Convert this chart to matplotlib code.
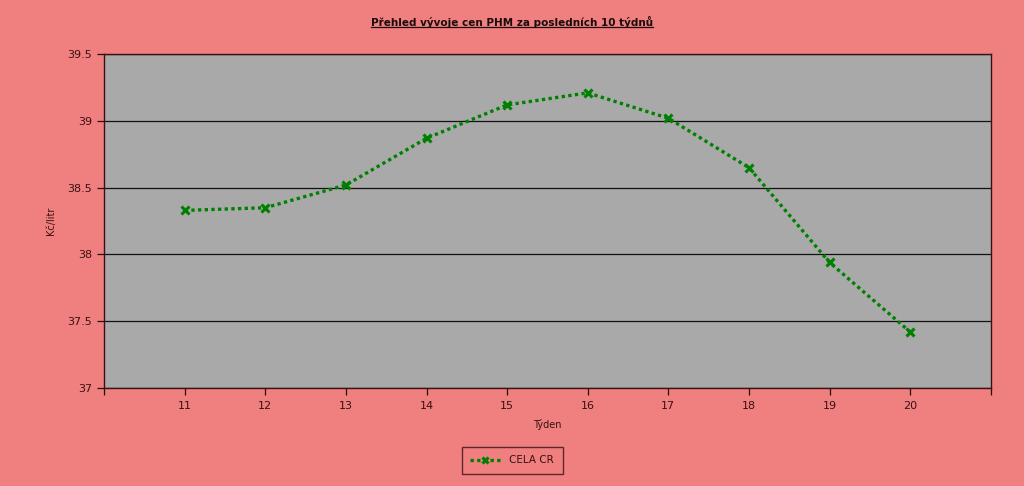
import matplotlib
matplotlib.use("Agg")
import matplotlib.pyplot as plt

# data
weeks = [11, 12, 13, 14, 15, 16, 17, 18, 19, 20]
prices = [38.33, 38.35, 38.52, 38.87, 39.12, 39.21, 39.02, 38.65, 37.94, 37.42]
series_name = "CELA CR"
y_ticks = [37, 37.5, 38, 38.5, 39, 39.5]
y_labels = ["37", "37.5", "38", "38.5", "39", "39.5"]

bg = "#F08080"
plot_bg = "#A9A9A9"
text_col = "#3a1010"
line_col = "#008000"

fig = plt.figure(figsize=(10.24, 4.86), dpi=100)
fig.patch.set_facecolor(bg)
ax = fig.add_axes([0.1016, 0.2016, 0.866, 0.687])
ax.set_facecolor(plot_bg)

ax.plot(weeks, prices, color=line_col, linestyle=(0, (1, 1)), linewidth=2.4,
        marker="x", markersize=6, markeredgewidth=2.2, label=series_name)

ax.set_xlim(10, 21)
ax.set_ylim(37, 39.5)
ax.set_xticks(weeks)
ax.set_xticks([10, 21], minor=True)
ax.set_yticks(y_ticks)
ax.set_yticklabels(y_labels)
ax.yaxis.grid(True, color="#111111", linewidth=0.9)
ax.set_axisbelow(True)

for s in ax.spines.values():
    s.set_color("#3a1010")
    s.set_linewidth(1.0)

ax.tick_params(axis="both", colors="#2a0a0a", labelcolor=text_col, labelsize=8, length=5, width=0.9)
ax.tick_params(axis="x", which="minor", length=5, width=0.9, colors="#2a0a0a")
ax.tick_params(axis="x", pad=4)

ax.set_xlabel("Týden", fontsize=7, color=text_col, labelpad=6)
ax.set_ylabel("Kč/litr", fontsize=7, color=text_col, labelpad=8)

title = fig.text(0.5, 0.955, "Přehled vývoje cen PHM za posledních 10 týdnů",
                 ha="center", va="center", fontsize=7.5, fontweight="bold", color="#1a0a0a")
fig.canvas.draw()
bb = title.get_window_extent().transformed(fig.transFigure.inverted())
fig.add_artist(plt.Line2D([bb.x0, bb.x1], [bb.y0 + 0.002, bb.y0 + 0.002],
                          color="#1a0a0a", linewidth=0.9))

leg = fig.legend(loc="center", bbox_to_anchor=(0.5, 0.053), fontsize=7.5,
                 frameon=True, fancybox=False, handlelength=3, borderpad=0.8,
                 markerscale=0.7)
leg.get_frame().set_facecolor(bg)
leg.get_frame().set_edgecolor("#3a1010")
leg.get_frame().set_linewidth(1.0)
for t in leg.get_texts():
    t.set_color(text_col)

fig.savefig("out.png", dpi=100, facecolor=bg)
